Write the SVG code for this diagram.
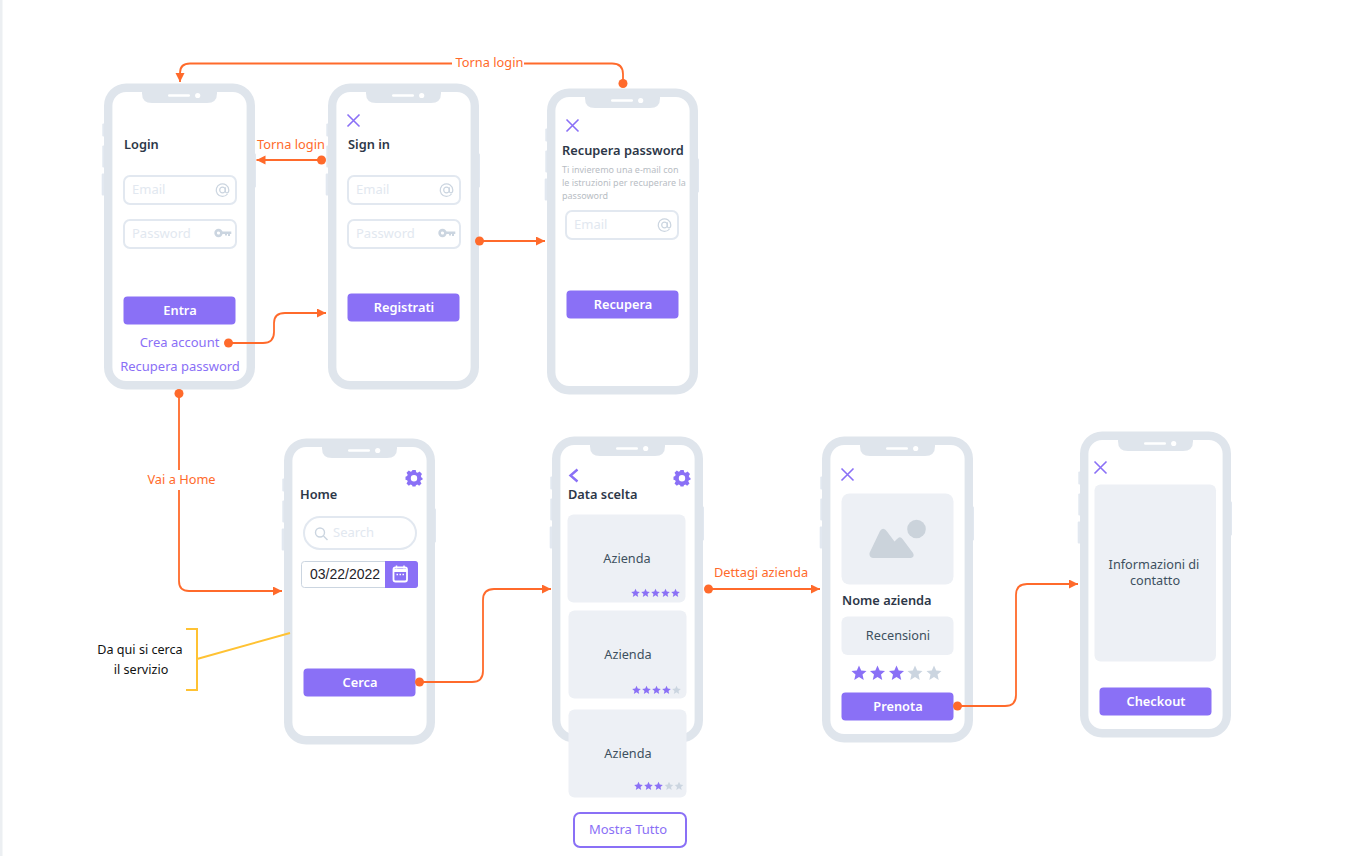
<svg xmlns="http://www.w3.org/2000/svg" width="1346" height="856" viewBox="0 0 1346 856">
<style>
text{font-family:"Noto Sans","Open Sans",sans-serif}
.t{font-size:12.8px;font-weight:600;fill:#2d3748}
.ph{font-size:13px;fill:#e2e8f0}
.btn{fill:#8a70f6}
.bt{font-size:12.8px;font-weight:600;fill:#fff;text-anchor:middle}
.lnk{font-size:13px;fill:#8a70f6;text-anchor:middle}
.lab{font-size:12.8px;fill:#ff6a2b;text-anchor:middle}
.inp{fill:#fff;stroke:#e2e8f0;stroke-width:2}
.card{fill:#edf0f5}
.ct{font-size:12.700px;fill:#3d5060;text-anchor:middle}
.con{fill:none;stroke:#ff6a2b;stroke-width:1.8}
.dot{fill:#ff6a2b}
.x{fill:none;stroke:#8a70f6;stroke-width:1.6}
.bk{fill:none;stroke:#8a70f6;stroke-width:2.4}
.ic{fill:none;stroke:#cbd5e0;stroke-width:1.200}
.s1{fill:#8a70f6}.s0{fill:#cbd5e0}
.note{font-size:12.600px;fill:#111;text-anchor:middle}
.sm{font-size:9px;fill:#b8bdc4}
</style>
<defs>
<marker id="arr" markerUnits="userSpaceOnUse" markerWidth="10" markerHeight="10" refX="9" refY="4.500" orient="auto"><path d="M0 0L9 4.500L0 9Z" fill="#ff6a2b"/></marker>
<g id="phone">
<rect x="-1.7" y="40" width="3" height="13" rx="1" fill="#e2e8f0"/>
<rect x="-1.7" y="62" width="3" height="22" rx="1" fill="#e2e8f0"/>
<rect x="-2.3" y="90" width="3" height="22" rx="1" fill="#e2e8f0"/>
<rect x="149" y="70" width="3" height="34" rx="1" fill="#e2e8f0"/>
<rect x="4.2" y="4.2" width="142.6" height="297.6" rx="18" fill="#fff" stroke="#dfe5ec" stroke-width="8.4"/>
<path d="M38 8H113V10Q113 19.500 103 19.500H48Q38 19.500 38 10Z" fill="#dfe5ec"/>
<rect x="64" y="10.800" width="22" height="2.400" rx="1.200" fill="#fff"/>
<circle cx="93.700" cy="12" r="2.600" fill="#fff"/>
</g>
<g id="at"><path class="ic" d="M5 4A6.300 6.300 0 1 1 6.300 0Q6.300 2.800 4.400 2.800Q2.800 2.800 2.800 1V-2.800"/><circle cx="0" cy="0" r="2.800" class="ic"/></g>
<g id="key"><circle cx="-5" cy="0" r="2.900" fill="none" stroke="#cbd5e0" stroke-width="2.600"/><path d="M-2.500-1.500H7.800V1H6.500V3H4.500V1H3.500V2.600H1.500V1H-2.500Z" fill="#cbd5e0"/></g>
<path id="star" d="M0-4.300L1.250-1.400L4.300-1.100L2 .9L2.700 4L0 2.300L-2.700 4L-2 .9L-4.300-1.100L-1.250-1.400Z"/>
<path id="gear" fill-rule="evenodd" d="M-1.700-8H1.700L2.200-5.800L3.700-5.200L5.600-6.400L8-4L6.800-2.100L7.400-.6L8.500 0V1.700L6.800 2.200L6.300 3.600L7.500 5.500L5.200 7.800L3.300 6.600L1.900 7.200L1.500 8.500H-1.500L-1.900 7.200L-3.300 6.600L-5.200 7.800L-7.500 5.500L-6.300 3.600L-6.800 2.200L-8.500 1.700V-1.200L-6.900-1.900L-6.300-3.300L-7.500-5.200L-5.200-7.500L-3.300-6.300L-1.900-6.900ZM0-3A3.200 3.200 0 1 0 0 3.400A3.200 3.200 0 1 0 0-3Z"/>
<path id="close" class="x" d="M-6-6L6 6M6-6L-6 6"/>
</defs>
<rect x="0" y="0" width="2.500" height="856" fill="#eceff2"/>

<g id="login">
<use href="#phone" x="104" y="83.500"/>
<text class="t" x="124" y="149">Login</text>
<rect class="inp" x="124" y="176" width="112" height="28" rx="6"/><text class="ph" x="132" y="194">Email</text><use href="#at" x="222.500" y="190"/>
<rect class="inp" x="124" y="220" width="112" height="28" rx="6"/><text class="ph" x="132" y="238">Password</text><use href="#key" x="223.500" y="233"/>
<rect class="btn" x="123.500" y="296.500" width="112" height="28" rx="4"/><text class="bt" x="180" y="315">Entra</text>
<text class="lnk" x="179.500" y="347">Crea account</text>
<text class="lnk" x="180" y="371">Recupera password</text>
</g>
<g id="signin">
<use href="#phone" x="328" y="83.500"/>
<use href="#close" x="353.500" y="120.500"/>
<text class="t" x="348" y="149">Sign in</text>
<rect class="inp" x="348" y="176" width="112" height="28" rx="6"/><text class="ph" x="356" y="194">Email</text><use href="#at" x="446.500" y="190"/>
<rect class="inp" x="348" y="220" width="112" height="28" rx="6"/><text class="ph" x="356" y="238">Password</text><use href="#key" x="447.500" y="233"/>
<rect class="btn" x="347.500" y="293.500" width="112" height="28" rx="4"/><text class="bt" x="404" y="312">Registrati</text>
</g>
<g id="recupera">
<use href="#phone" x="547" y="88.500"/>
<use href="#close" x="572.500" y="125.500"/>
<text class="t" x="562" y="155">Recupera password</text>
<text class="sm" x="562" y="173">Ti invieremo una e-mail con</text>
<text class="sm" x="562" y="186">le istruzioni per recuperare la</text>
<text class="sm" x="562" y="199">passoword</text>
<rect class="inp" x="566" y="211" width="112" height="28" rx="6"/><text class="ph" x="574" y="229">Email</text><use href="#at" x="664.500" y="225"/>
<rect class="btn" x="566.500" y="290.500" width="112" height="28" rx="4"/><text class="bt" x="623" y="309">Recupera</text>
</g>
<g id="home">
<use href="#phone" x="284" y="438.500"/>
<use href="#gear" x="414" y="478" fill="#8a70f6"/>
<text class="t" x="300" y="499">Home</text>
<rect class="inp" x="304" y="517" width="112" height="32" rx="16"/>
<circle cx="320" cy="532.500" r="4.500" fill="none" stroke="#cbd5e0" stroke-width="1.400"/><path d="M323.500 536L327.500 540" stroke="#cbd5e0" stroke-width="1.500"/>
<text class="ph" x="333" y="537">Search</text>
<rect x="301.500" y="561.500" width="116" height="26" rx="3" fill="#fff" stroke="#cbd5e0"/>
<path d="M385 561H415Q418 561 418 564V585Q418 588 415 588H385Z" class="btn"/>
<text x="310" y="579" font-size="14" fill="#1f2328" style="font-family:'Liberation Sans',Arial,sans-serif">03/22/2022</text>
<rect x="393.500" y="567.500" width="13.500" height="14" rx="2" fill="none" stroke="#fff" stroke-width="1.800"/><path d="M393.500 570.500H407" stroke="#fff" stroke-width="3"/><path d="M396.500 565.500V568.500M404 565.500V568.500" stroke="#fff" stroke-width="1.500"/><path d="M396.500 574.500H404" stroke="#fff" stroke-width="1.300" stroke-dasharray="1.500 1.500"/>
<rect class="btn" x="303.500" y="668.500" width="112" height="28" rx="4"/><text class="bt" x="360" y="687">Cerca</text>
</g>
<g id="data-scelta">
<use href="#phone" x="552" y="436.500"/>
<path class="bk" d="M577.500 469.500L570.500 475.500L577.500 481.500"/>
<use href="#gear" x="682" y="478" fill="#8a70f6"/>
<text class="t" x="568" y="499">Data scelta</text>
<rect class="card" x="567.500" y="514.500" width="118" height="88" rx="6"/><text class="ct" x="627" y="563">Azienda</text>
<g class="s1"><use href="#star" x="635.500" y="593"/><use href="#star" x="645.500" y="593"/><use href="#star" x="655.500" y="593"/><use href="#star" x="665.500" y="593"/><use href="#star" x="675.500" y="593"/></g>
<rect class="card" x="568.500" y="610.500" width="118" height="88" rx="6"/><text class="ct" x="628" y="659">Azienda</text>
<g class="s1"><use href="#star" x="636.500" y="690"/><use href="#star" x="646.500" y="690"/><use href="#star" x="656.500" y="690"/><use href="#star" x="666.500" y="690"/></g><use href="#star" class="s0" x="676.500" y="690"/>
<rect class="card" x="568.500" y="709.500" width="118" height="88" rx="6"/><text class="ct" x="628" y="758">Azienda</text>
<g class="s1"><use href="#star" x="638.500" y="786"/><use href="#star" x="648.500" y="786"/><use href="#star" x="658.500" y="786"/></g><g class="s0"><use href="#star" x="669" y="786"/><use href="#star" x="679" y="786"/></g>
<rect x="574" y="813" width="112" height="34" rx="6" fill="#fff" stroke="#8a70f6" stroke-width="2"/><text class="lnk" x="628" y="834">Mostra Tutto</text>
</g>
<g id="dettagli">
<use href="#phone" x="822" y="436.500"/>
<use href="#close" x="847.500" y="474.500"/>
<rect class="card" x="841.500" y="493.500" width="112" height="91" rx="8"/>
<circle cx="916.500" cy="529" r="9.300" fill="#cbd3db"/>
<path d="M869.500 553Q869 557.500 873 558H911Q915 557 913 553L902.500 539Q900 535.500 897 539L894.500 541.500L887 531.500Q883.500 526.500 880 531Z" fill="#cbd3db"/>
<text class="t" x="842" y="605">Nome azienda</text>
<rect class="card" x="841.500" y="616.500" width="112" height="38.500" rx="6"/><text class="ct" x="898" y="640">Recensioni</text>
<g class="s1"><use href="#star" transform="translate(859 673) scale(1.750)"/><use href="#star" transform="translate(877.500 673) scale(1.750)"/><use href="#star" transform="translate(896.500 673) scale(1.750)"/></g>
<g class="s0"><use href="#star" transform="translate(915 673) scale(1.750)"/><use href="#star" transform="translate(934 673) scale(1.750)"/></g>
<rect class="btn" x="841.500" y="692.500" width="112" height="28" rx="4"/><text class="bt" x="898" y="711">Prenota</text>
</g>
<g id="contatto">
<use href="#phone" x="1080" y="431.500"/>
<use href="#close" x="1100.500" y="467.500"/>
<rect class="card" x="1094.500" y="484.500" width="121.500" height="177" rx="6"/>
<text class="ct" x="1154" y="569">Informazioni di</text><text class="ct" x="1155" y="585">contatto</text>
<rect class="btn" x="1099.500" y="687.500" width="112" height="28" rx="4"/><text class="bt" x="1156" y="706">Checkout</text>
</g>

<g id="connectors">
<path class="con" marker-end="url(#arr)" d="M623 83V74Q623 63.500 612 63.500H190Q180 63.500 180 73V82"/>
<path class="con" marker-end="url(#arr)" d="M322 160H256.500"/>
<path class="con" marker-end="url(#arr)" d="M228.500 343H263Q274 343 274 332V323Q274 313 285 313H326"/>
<path class="con" marker-end="url(#arr)" d="M479.500 241H545"/>
<path class="con" marker-end="url(#arr)" d="M179 393V581Q179 591 189 591H282"/>
<path class="con" marker-end="url(#arr)" d="M419.500 682H472Q483 682 483 671V600Q483 589 494 589H551"/>
<path class="con" marker-end="url(#arr)" d="M708.500 589H820"/>
<path class="con" marker-end="url(#arr)" d="M957.500 706H1005Q1016 706 1016 695V595Q1016 584 1027 584H1078"/>
<circle class="dot" cx="623" cy="83.500" r="4.500"/><circle class="dot" cx="321.500" cy="160" r="4.500"/><circle class="dot" cx="228.500" cy="343" r="4.500"/><circle class="dot" cx="479.500" cy="241" r="4.500"/><circle class="dot" cx="179" cy="393.500" r="4.500"/><circle class="dot" cx="419.500" cy="682" r="4.500"/><circle class="dot" cx="708.500" cy="589" r="4.500"/><circle class="dot" cx="957.500" cy="706" r="4.500"/>
<rect x="452" y="52" width="72" height="20" fill="#fff"/><text class="lab" x="489.500" y="67">Torna login</text>
<text class="lab" x="291" y="149">Torna login</text>
<rect x="146" y="470" width="70" height="20" fill="#fff"/><text class="lab" x="181.500" y="484">Vai a Home</text>
<text class="lab" x="761" y="577">Dettagi azienda</text>
<path d="M186 629H197V690H186M197 659L290 633" fill="none" stroke="#ffc233" stroke-width="2"/>
<text class="note" x="140" y="654">Da qui si cerca</text>
<text class="note" x="141" y="674">il servizio</text>
</g>
</svg>
